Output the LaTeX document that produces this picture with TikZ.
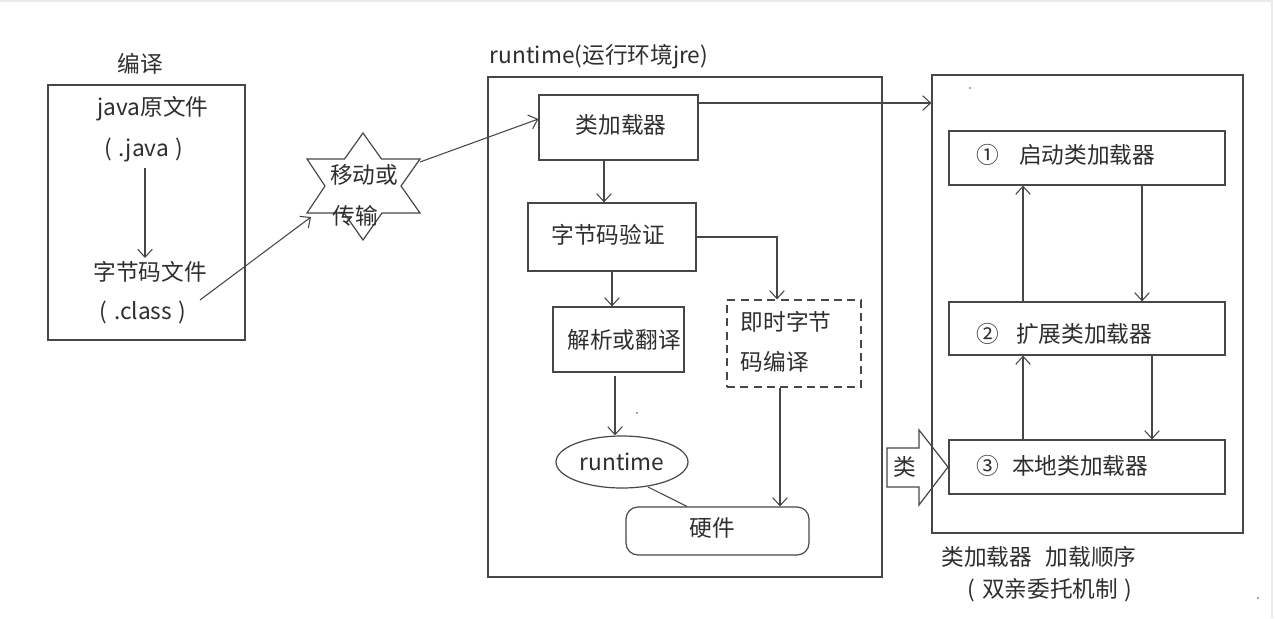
\documentclass[tikz,border=0pt]{standalone}
\usepackage{fontspec}
\setmainfont{Noto Sans CJK SC}
\usetikzlibrary{arrows.meta,shapes.geometric}
\begin{document}
\begin{tikzpicture}[x=0.75pt,y=-0.75pt,
  every node/.style={font=\fontsize{17}{20}\selectfont, text=black!82},
  box/.style={draw=black!72, line width=0.9pt, rectangle, inner sep=0pt},
  ln/.style={draw=black!72, line width=0.8pt},
  arr/.style={ln, -{Straight Barb[length=6pt,width=11pt]}},
  lbl/.style={inner sep=0pt}
]
\useasboundingbox (0,0) rectangle (1275,618);
\fill[white] (0,0) rectangle (1275,618);
\draw[black!8, line width=1pt] (0,1) -- (1272,1) -- (1272,618);

% ---- compile box ----
\node[lbl] (tcomp) at (140,64) {编译};
\node[box, minimum width=147.75pt, minimum height=191.25pt] (cbox) at (146.5,212.5) {};
\node[lbl] (jsrc) at (153,109) {java原文件};
\node[lbl] (jext) at (144,150) {(\hspace{0.3em}.java\hspace{0.3em})};
\node[lbl] (cfile) at (150,272) {字节码文件};
\node[lbl] (cext) at (143,312) {(\hspace{0.3em}.class\hspace{0.3em})};
\coordinate (jdown) at (145,168);
\coordinate (cup) at (145,258);
\draw[arr] (jdown) -- (cup);

% ---- star ----
\draw[ln, line width=0.9pt] (363,133) -- (381.5,159) -- (420,159) -- (401,186) -- (420,213) -- (382,213)
  -- (363,240) -- (344,213) -- (307,213) -- (325,186) -- (307,159) -- (344.5,159) -- cycle;
\node[lbl] (mv1) at (364,175) {移动或};
\node[lbl] (mv2) at (355,216) {传输};
\coordinate (clsout) at (200,300);
\coordinate (starll) at (311,217);
\coordinate (starur) at (420,162);
\draw[arr] (clsout) -- (starll);

% ---- runtime box ----
\node[lbl] (trt) at (599,57) {runtime(运行环境jre)};
\node[box, minimum width=295.5pt, minimum height=375pt] (rtbox) at (685,327) {};
\node[box, minimum width=119.25pt, minimum height=48.75pt] (cl) at (618.5,127.5) {};
\node[lbl] (cltxt) at (621,125) {类加载器};
\node[box, minimum width=126pt, minimum height=51pt] (bv) at (612,237) {};
\node[lbl] (bvtxt) at (608,235) {字节码验证};
\node[box, minimum width=98.25pt, minimum height=48.75pt] (jx) at (618.5,339.5) {};
\node[lbl] (jxtxt) at (624,340) {解析或翻译};
\node[box, dashed, dash pattern=on 6pt off 4pt, minimum width=100.5pt, minimum height=65.25pt] (jit) at (794,343.5) {};
\node[lbl, align=left, font=\fontsize{17}{30}\selectfont] (jittxt) at (786,342) {即时字节\\码编译};
\node[ellipse, draw=black!72, line width=0.9pt, minimum width=99pt, minimum height=39pt, inner sep=0pt] (rt) at (622,462) {runtime};
\node[box, rounded corners=9pt, minimum width=137.25pt, minimum height=36pt] (hw) at (717.5,531) {};
\node[lbl] (hwtxt) at (712,528) {硬件};

\draw[arr] (starur) -- (cl.west |- 0,119);
\draw[arr] (cl.south -| 604,0) -- (bv.north -| 604,0);
\draw[arr] (bv.south -| 612,0) -- (jx.north -| 612,0);
\draw[arr] (bv.east |- 0,237) -- (777,237) -- (jit.north -| 777,0);
\draw[arr] (615,376) -- (rt.north -| 615,0);
\draw[ln] (648,487) -- (hw.north -| 687,0);
\draw[arr] (jit.south -| 780,0) -- (hw.north -| 780,0);
\fill[black!70] (637,413) circle (0.9);

% ---- right box ----
\node[box, minimum width=233.25pt, minimum height=343.5pt] (rb) at (1087.5,304) {};
\draw[arr] (cl.east |- 0,103) -- (rb.west |- 0,103);
\fill[black!70] (970,88) circle (0.9);

\node[box, minimum width=207pt, minimum height=40.5pt] (b1) at (1087,158) {};
\node[lbl] (n1) at (988,155) {①};
\node[lbl, anchor=west] (t1) at (1019,155) {启动类加载器};
\node[box, minimum width=207pt, minimum height=39.75pt] (b2) at (1087,328.5) {};
\node[lbl] (n2) at (988,334) {②};
\node[lbl, anchor=west] (t2) at (1016,334) {扩展类加载器};
\node[box, minimum width=207pt, minimum height=40.5pt] (b3) at (1087,467) {};
\node[lbl] (n3) at (988,466) {③};
\node[lbl, anchor=west] (t3) at (1012,466) {本地类加载器};

\draw[arr] (b2.north -| 1023,0) -- (b1.south -| 1023,0);
\draw[arr] (b1.south -| 1142,0) -- (b2.north -| 1142,0);
\draw[arr] (b3.north -| 1023,0) -- (b2.south -| 1023,0);
\draw[arr] (b2.south -| 1152,0) -- (b3.north -| 1152,0);

% block arrow
\draw[ln, line width=0.9pt] (887,448) -- (919,448) -- (919,430) -- (948,467) -- (919,505) -- (919,487) -- (887,487) -- cycle;
\node[lbl] (lei) at (905,467) {类};

\node[lbl] (ord1) at (1039,557) {类加载器\hspace{0.6em}加载顺序};
\node[lbl] (ord2) at (1050,590) {(\hspace{0.3em}双亲委托机制\hspace{0.3em})};
\fill[black!70] (1258,598) circle (0.9);
\end{tikzpicture}
\end{document}
